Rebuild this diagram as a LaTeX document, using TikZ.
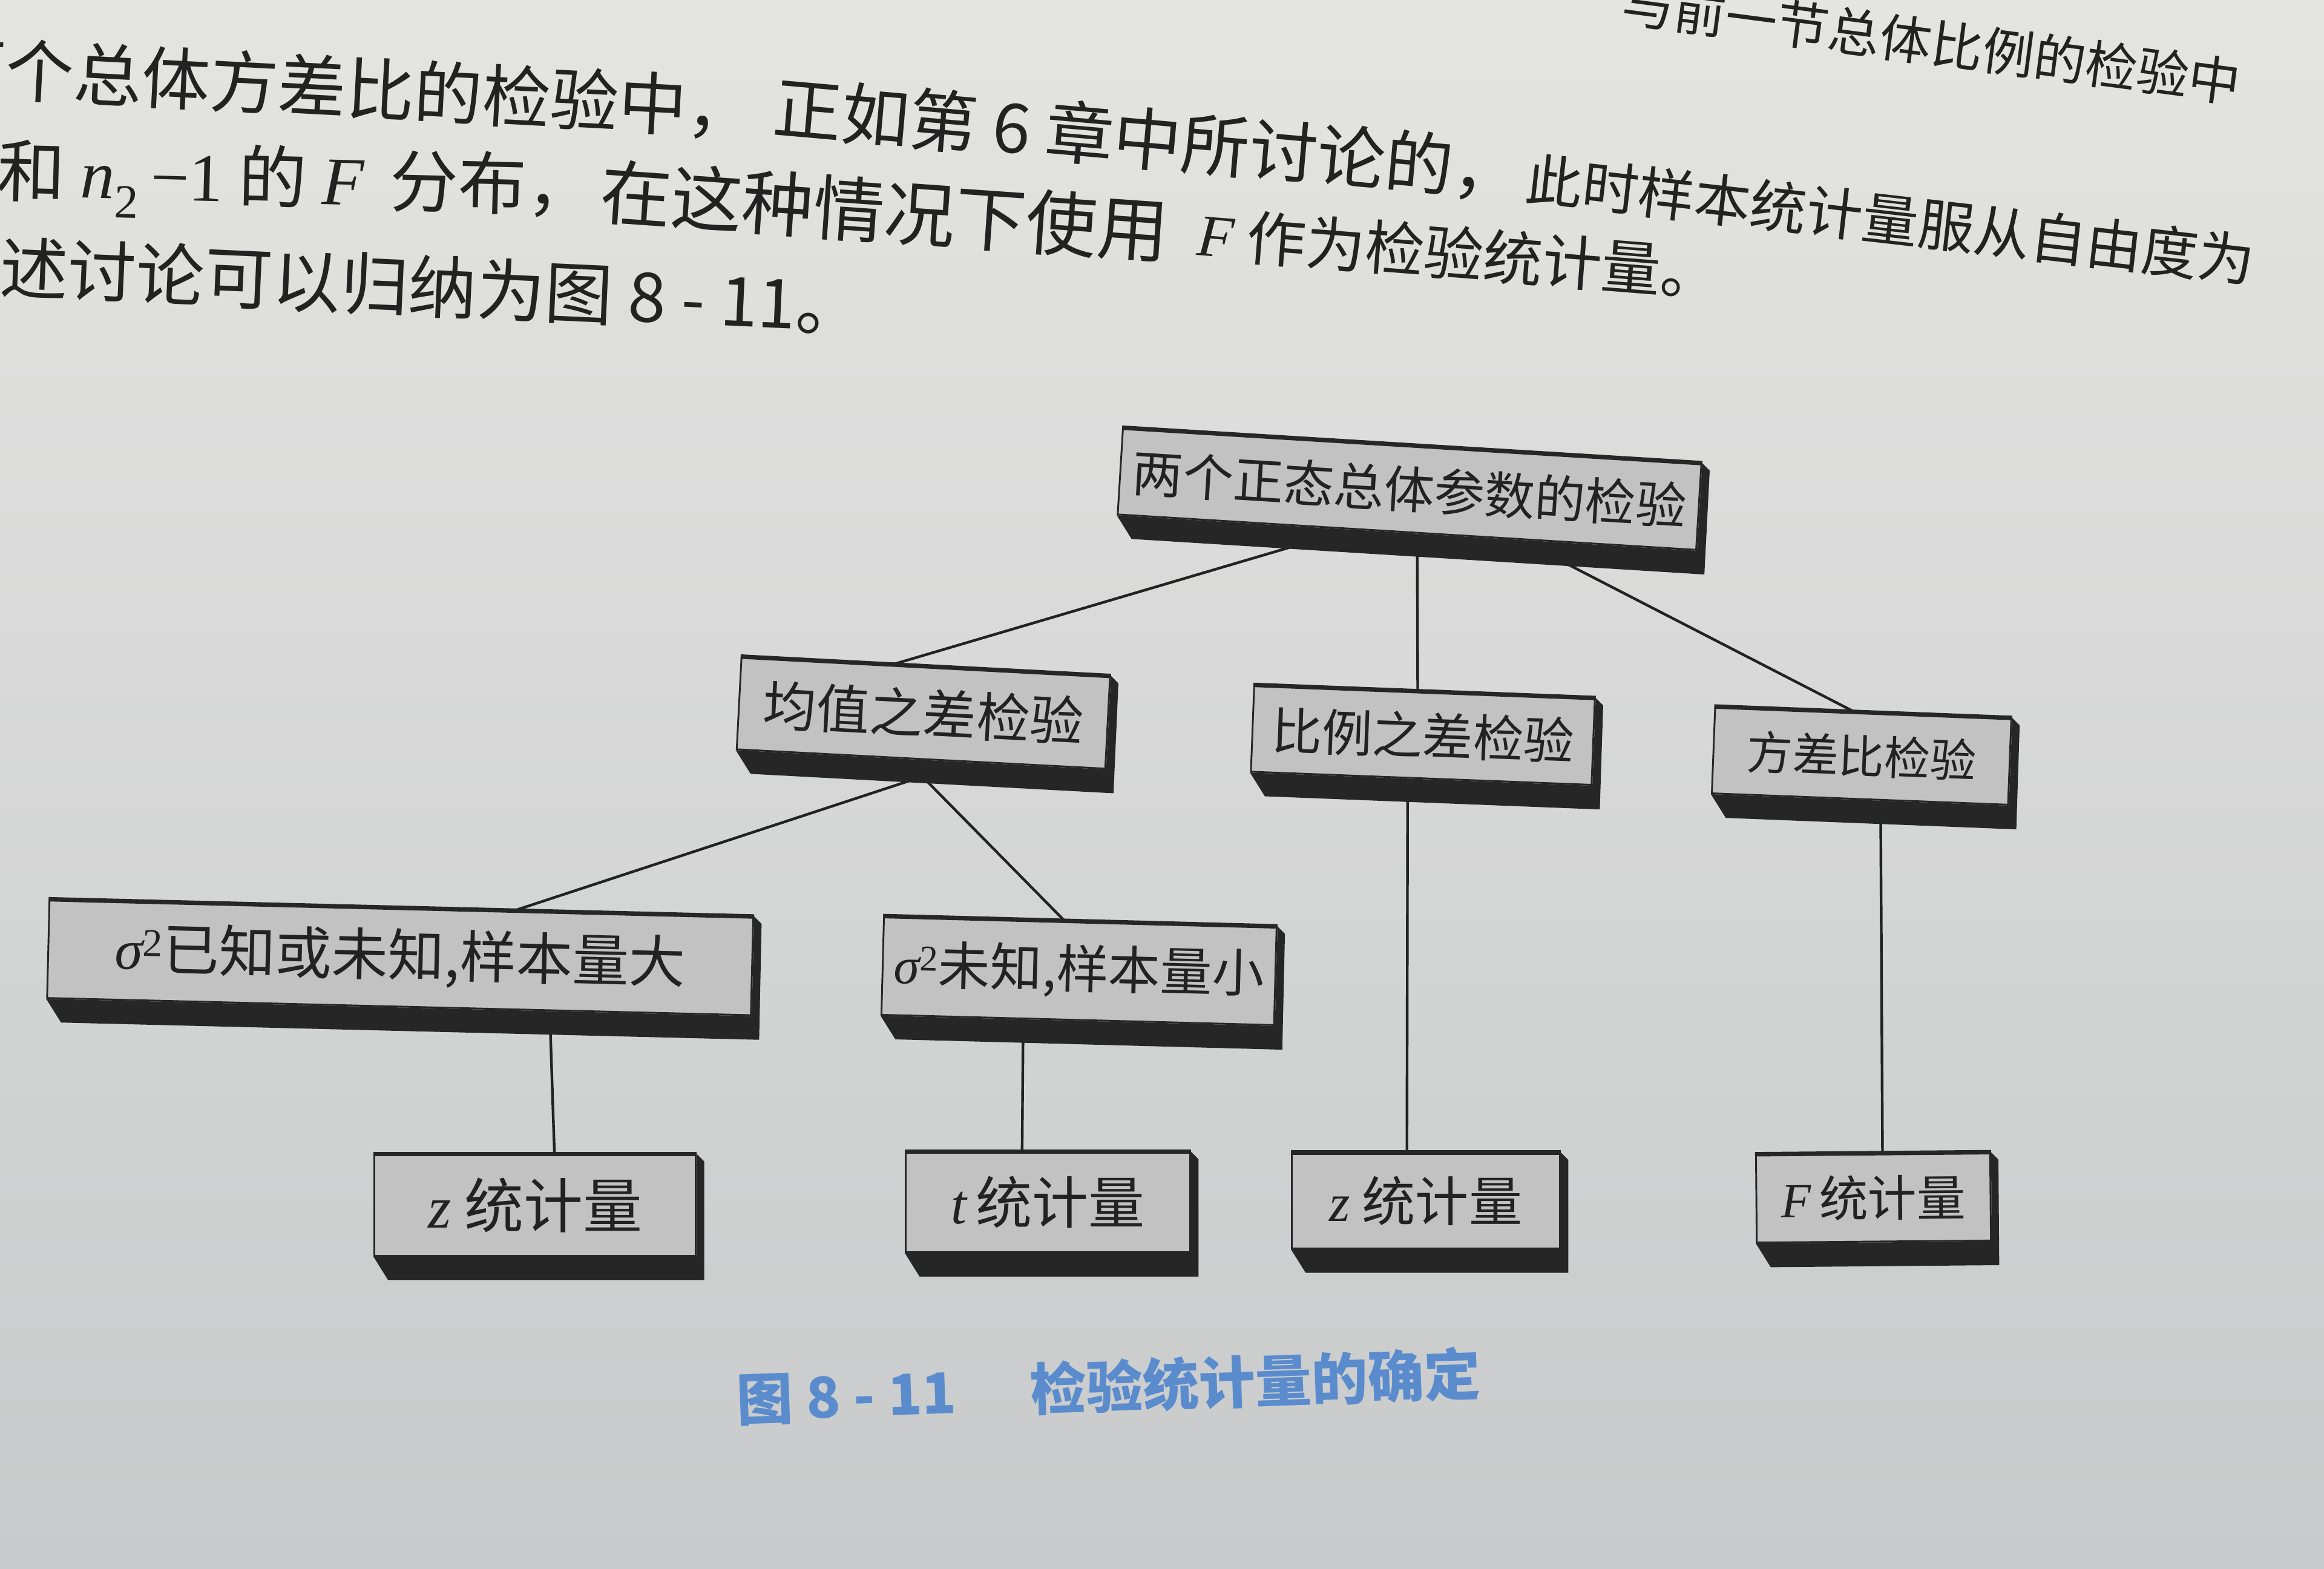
\documentclass[tikz,border=0pt]{standalone}
\usepackage{fontspec}
\newfontfamily\cjk{Noto Sans CJK SC}
\newfontfamily\lat{Liberation Serif}
\usetikzlibrary{calc}
\definecolor{paperA}{HTML}{E4E4E2}
\definecolor{paperB}{HTML}{D7D9D8}
\definecolor{paperC}{HTML}{C8CACB}
\definecolor{facegray}{HTML}{C2C2C2}
\definecolor{bandgray}{HTML}{262626}
\definecolor{inkc}{HTML}{222222}
\definecolor{capblue}{HTML}{5A8CCD}
\pgfdeclarelayer{paper}
\pgfdeclarelayer{lines}
\pgfdeclarelayer{extr}
\pgfsetlayers{paper,lines,extr,main}
\newcommand{\fsz}[1]{\fontsize{#1}{#1}\selectfont}
\newcommand{\iv}[1]{{\lat\itshape #1}}
\newcommand{\sigsq}{\iv{σ}\textsuperscript{\lat 2}}
\begin{document}
\begin{tikzpicture}[x=1pt,y=-1pt,
  box/.style={draw=bandgray, line width=1.2pt, fill=facegray, text=inkc, inner sep=0pt},
  conn/.style={draw=inkc, line width=1.8pt},
  bodytext/.style={text=inkc, inner sep=0pt, anchor=west},
  captext/.style={text=capblue, inner sep=0pt, anchor=west, font=\cjk\bfseries\fsz{38}}
 ]
\useasboundingbox (0,0) rectangle (1568,1058);
\begin{pgfonlayer}{paper}
\shade[top color=paperA, middle color=paperB, bottom color=paperC] (0,0) rectangle (1568,1058);
\end{pgfonlayer}

% body text
\node[bodytext, font=\cjk\fsz{35}, rotate=-7.5] (l0) at (1095,1) {与前一节总体比例的检验中};
\node[bodytext, font=\cjk\fsz{46}, rotate=-3] (l1a) at (-42,45) {两个总体方差比的检验中，};
\node[bodytext, font=\cjk\fsz{46}, rotate=-5] (l1b) at (522,72) {正如第 6 章中所讨论的，};
\node[bodytext, font=\cjk\fsz{38}, rotate=-6.5] (l1c) at (1030,120) {此时样本统计量服从自由度为};
\node[bodytext, font=\cjk\fsz{46}, rotate=-1.5] (l2a) at (-2,119) {和 \iv{n}\textsubscript{\lat 2}\,{\lat −1} 的 \iv{F}\, 分布，};
\node[bodytext, font=\cjk\fsz{48}, rotate=-4] (l2b) at (405,129) {在这种情况下使用};
\node[bodytext, font=\cjk\fsz{40}, rotate=-4.5] (l2c) at (808,157) {\iv{F} 作为检验统计量。};
\node[bodytext, font=\cjk\fsz{46}, rotate=-2.6] (l3) at (-46,178) {上述讨论可以归纳为图 8 - 11。};

% boxes
\node[box, minimum width=391, minimum height=58, rotate=-3.5, font=\cjk\fsz{34}] (top) at (951,330) {两个正态总体参数的检验};
\node[box, minimum width=249, minimum height=62, rotate=-3, font=\cjk\fsz{36}] (mean) at (623,481) {均值之差检验};
\node[box, minimum width=230, minimum height=58, rotate=-2.2, font=\cjk\fsz{34}] (ratio) at (960,496) {比例之差检验};
\node[box, minimum width=200, minimum height=58, rotate=-2.2, font=\cjk\fsz{31}] (var) at (1256,510) {方差比检验};
\node[box, minimum width=475, minimum height=66, rotate=-1.4, font=\cjk\fsz{38}] (big) at (270,646) {\sigsq 已知或未知,样本量大};
\node[box, minimum width=265, minimum height=66, rotate=-1.5, font=\cjk\fsz{35}] (small) at (728,655) {\sigsq 未知,样本量小};
\node[box, minimum width=217, minimum height=68, font=\cjk\fsz{40}] (za) at (361,813) {\iv{z} 统计量};
\node[box, minimum width=192, minimum height=67, font=\cjk\fsz{38}] (tt) at (707,811) {\iv{t}\,统计量};
\node[box, minimum width=181, minimum height=64, font=\cjk\fsz{36}] (zb) at (962,810) {\iv{z} 统计量};
\node[box, minimum width=158, minimum height=59, rotate=0.5, font=\cjk\fsz{33}] (ff) at (1264,808) {\iv{F}\,统计量};

\begin{pgfonlayer}{extr}
\foreach \n in {top,mean,ratio,var,big,small,za,tt,zb,ff}{
  \fill[bandgray] (\n.south west) -- ($(\n.south west)+(10,16)$) -- ($(\n.south east)+(5,16)$)
     -- ($(\n.north east)+(5,5)$) -- (\n.north east) -- (\n.south east) -- cycle;
}
\end{pgfonlayer}
\foreach \n in {top,mean,ratio,var,big,small,za,tt,zb,ff}{
  \draw[bandgray, line width=3pt] (\n.north west) -- (\n.north east);
}

% connectors (from the bottom of each box's dark band to the top of the next box)
\begin{pgfonlayer}{lines}
\draw[conn] ($(top.south west)!0.28!(top.south east)+(7,15)$) -- ($(mean.north west)!0.41!(mean.north east)$);
\draw[conn] ($(top.south west)!0.50!(top.south east)+(7,15)$) -- ($(ratio.north west)!0.48!(ratio.north east)$);
\draw[conn] ($(top.south west)!0.76!(top.south east)+(7,15)$) -- ($(var.north west)!0.47!(var.north east)$);
\draw[conn] ($(mean.south west)!0.44!(mean.south east)+(7,15)$) -- ($(big.north west)!0.66!(big.north east)$);
\draw[conn] ($(mean.south west)!0.49!(mean.south east)+(7,15)$) -- ($(small.north west)!0.46!(small.north east)$);
\draw[conn] ($(big.south west)!0.70!(big.south east)+(7,15)$) -- ($(za.north west)!0.56!(za.north east)$);
\draw[conn] ($(small.south west)!0.335!(small.south east)+(7,15)$) -- ($(tt.north west)!0.41!(tt.north east)$);
\draw[conn] ($(ratio.south west)!0.43!(ratio.south east)+(7,15)$) -- ($(zb.north west)!0.43!(zb.north east)$);
\draw[conn] ($(var.south west)!0.535!(var.south east)+(7,15)$) -- ($(ff.north west)!0.54!(ff.north east)$);
\end{pgfonlayer}

% caption
\node[captext, rotate=2] (cap) at (497,944) {图 8 - 11\hspace{50pt}检验统计量的确定};
\end{tikzpicture}
\end{document}
